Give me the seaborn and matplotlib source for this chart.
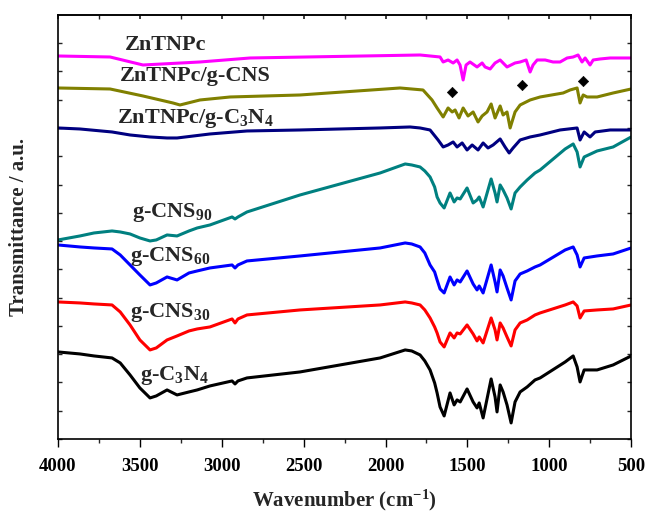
import matplotlib
matplotlib.use('Agg')
import matplotlib.pyplot as plt
import seaborn as sns
from matplotlib.ticker import MultipleLocator, NullFormatter

# FTIR spectra, transmittance in arbitrary units (curves already offset)
wn_gcn = [4000, 3866, 3780, 3670, 3620, 3560, 3500, 3438, 3400, 3334, 3273, 3200, 3150,
          3072, 2937, 2919, 2901, 2846, 2522, 2033, 1880, 1840, 1789, 1760, 1728, 1700,
          1685, 1667, 1642, 1606, 1581, 1563, 1544, 1502, 1465, 1441, 1428, 1404, 1355,
          1331, 1319, 1300, 1282, 1258, 1233, 1209, 1178, 1135, 1087, 1056, 903, 854,
          830, 812, 787, 708, 610, 500]

t_c3n4 = [87, 85, 83, 81, 76, 64, 51, 41, 43, 49, 44, 47, 49, 53, 58, 55, 58, 61, 67, 81,
          89, 88, 84, 78, 69, 56, 46, 32, 23, 46, 34, 39, 37, 50, 37, 31, 36, 21, 60, 42,
          27, 54, 47, 34, 16, 37, 47, 52, 59, 61, 77, 83, 72, 57, 69, 69, 74, 83]
t_cns30 = [137, 136, 135, 134, 127, 114, 99, 89, 91, 99, 103, 108, 110, 112, 120, 116,
           120, 124, 129, 134, 137, 136, 134, 129, 121, 112, 106, 97, 92, 106, 101, 106,
           105, 114, 105, 98, 102, 96, 121, 109, 99, 116, 111, 102, 93, 109, 116, 119,
           124, 126, 134, 137, 133, 121, 128, 129, 130, 134]
t_cns60 = [194, 192, 191, 190, 184, 174, 164, 154, 156, 162, 159, 166, 168, 171, 174, 171,
           174, 178, 183, 191, 196, 195, 192, 186, 174, 167, 159, 150, 146, 162, 154, 159,
           157, 168, 155, 149, 153, 146, 174, 157, 147, 169, 163, 151, 139, 158, 165, 168,
           172, 174, 189, 192, 184, 172, 181, 183, 185, 191]
t_cns90 = [199, 203, 206, 208, 207, 205, 201, 198, 199, 204, 203, 208, 211, 214, 222, 220,
           222, 227, 244, 266, 275, 274, 272, 268, 262, 252, 242, 236, 231, 246, 237, 241,
           240, 251, 236, 239, 242, 232, 260, 246, 237, 254, 249, 241, 230, 246, 252, 259,
           266, 269, 290, 295, 287, 272, 282, 288, 292, 302]

wn_zc = [4000, 3866, 3670, 3560, 3438, 3334, 3273, 3072, 2846, 2522, 2033, 1850, 1789,
         1728, 1679, 1648, 1618, 1587, 1563, 1532, 1502, 1471, 1435, 1404, 1374, 1343,
         1300, 1270, 1245, 1221, 1178, 1117, 1056, 934, 830, 812, 787, 751, 720, 628, 500]
t_zc = [311, 310, 307, 304, 302, 301, 301, 305, 308, 309, 311, 312, 311, 309, 299, 292,
        294, 297, 292, 296, 289, 294, 289, 296, 291, 294, 300, 292, 286, 291, 299, 302,
        304, 309, 311, 299, 307, 302, 307, 309, 309]

wn_zs = [4000, 3682, 3481, 3298, 3255, 3133, 2949, 2522, 1911, 1771, 1716, 1685, 1648,
         1618, 1593, 1575, 1551, 1526, 1496, 1465, 1435, 1410, 1380, 1355, 1331, 1300,
         1282, 1258, 1239, 1209, 1178, 1117, 1056, 915, 873, 830, 812, 793, 769, 708, 610, 500]
t_zs = [351, 350, 343, 336, 334, 339, 342, 344, 351, 349, 339, 331, 322, 331, 327, 329,
        321, 331, 323, 327, 317, 323, 327, 335, 321, 333, 324, 327, 311, 327, 334, 339,
        342, 346, 349, 351, 336, 344, 342, 342, 346, 350]

wn_znp = [4000, 3682, 3481, 3133, 2827, 1789, 1667, 1648, 1618, 1587, 1563, 1545, 1526,
          1508, 1484, 1441, 1410, 1392, 1361, 1331, 1300, 1258, 1209, 1178, 1141, 1117,
          1099, 1074, 1025, 977, 934, 891, 854, 824, 800, 781, 751, 732, 690, 628, 500]
t_znp = [383, 382, 374, 377, 381, 384, 382, 377, 379, 376, 379, 374, 359, 374, 377, 372,
         376, 372, 370, 376, 379, 372, 376, 377, 379, 367, 374, 379, 379, 377, 377, 381,
         382, 384, 377, 381, 374, 379, 380, 381, 381]

diamond_wn = [1593, 1166, 793]
diamond_t = [347, 354, 358]

sns.set_theme(style='ticks')
plt.rcParams['font.family'] = ['Liberation Serif', 'DejaVu Serif']
plt.rcParams['font.weight'] = 'bold'
plt.rcParams['axes.labelweight'] = 'bold'
plt.rcParams['mathtext.default'] = 'regular'

fig, ax = plt.subplots(figsize=(6.48, 5.17), dpi=100)
fig.subplots_adjust(left=0.0895, right=0.974, top=0.971, bottom=0.151)

curves = [
    (wn_gcn, t_c3n4, '#000000'),
    (wn_gcn, t_cns30, '#ff0000'),
    (wn_gcn, t_cns60, '#0000ff'),
    (wn_gcn, t_cns90, '#008080'),
    (wn_zc, t_zc, '#000080'),
    (wn_zs, t_zs, '#808000'),
    (wn_znp, t_znp, '#ff00ff'),
]
for wn, t, c in curves:
    sns.lineplot(x=wn, y=t, color=c, linewidth=2.2, estimator=None, sort=False, ax=ax)
for ln in ax.lines:
    ln.set_solid_joinstyle('round')

sns.scatterplot(x=diamond_wn, y=diamond_t, marker='D', color='black', s=28,
                edgecolor='black', ax=ax, zorder=5)

# curve labels
labels = [
    ('ZnTNPc', 3591, 394),
    ('ZnTNPc/g-CNS', 3621, 363),
    ('ZnTNPc/g-C$_{3}$N$_{4}$', 3640, 320),
    ('g-CNS$_{90}$', 3548, 226),
    ('g-CNS$_{60}$', 3560, 182),
    ('g-CNS$_{30}$', 3560, 126),
    ('g-C$_{3}$N$_{4}$', 3499, 63),
]
for txt, x, y in labels:
    ax.text(x, y, txt, fontsize=16, fontweight='bold', ha='left', va='center')

ax.set_xlim(4000, 500)
ax.set_ylim(0, 424)
ax.xaxis.set_major_locator(MultipleLocator(500))
ax.xaxis.set_minor_locator(MultipleLocator(250))
ax.yaxis.set_major_locator(MultipleLocator(28.27))
ax.yaxis.set_major_formatter(NullFormatter())
ax.tick_params(axis='x', which='major', direction='out', length=6, width=1.0,
               labelsize=13.5, pad=8, colors='black')
ax.tick_params(axis='x', which='minor', direction='out', length=3, width=1.0)
ax.tick_params(axis='y', which='major', direction='in', length=3, width=1.0,
               left=True, right=True)
for lab in ax.get_xticklabels():
    lab.set_fontweight('bold')

top = ax.secondary_xaxis('top')
top.xaxis.set_major_locator(MultipleLocator(500))
top.xaxis.set_minor_locator(MultipleLocator(250))
top.tick_params(axis='x', which='both', direction='in', length=3, labeltop=False)

for sp in ax.spines.values():
    sp.set_visible(True)
    sp.set_linewidth(1.2)
    sp.set_color('black')

ax.set_xlabel('Wavenumber (cm$^{-1}$)', fontsize=15, fontweight='bold')
ax.set_ylabel('Transmittance / a.u.', fontsize=15, fontweight='bold')
ax.xaxis.set_label_coords(0.5, -0.115)
ax.yaxis.set_label_coords(-0.05, 0.5)

fig.savefig('out.png', dpi=100)
